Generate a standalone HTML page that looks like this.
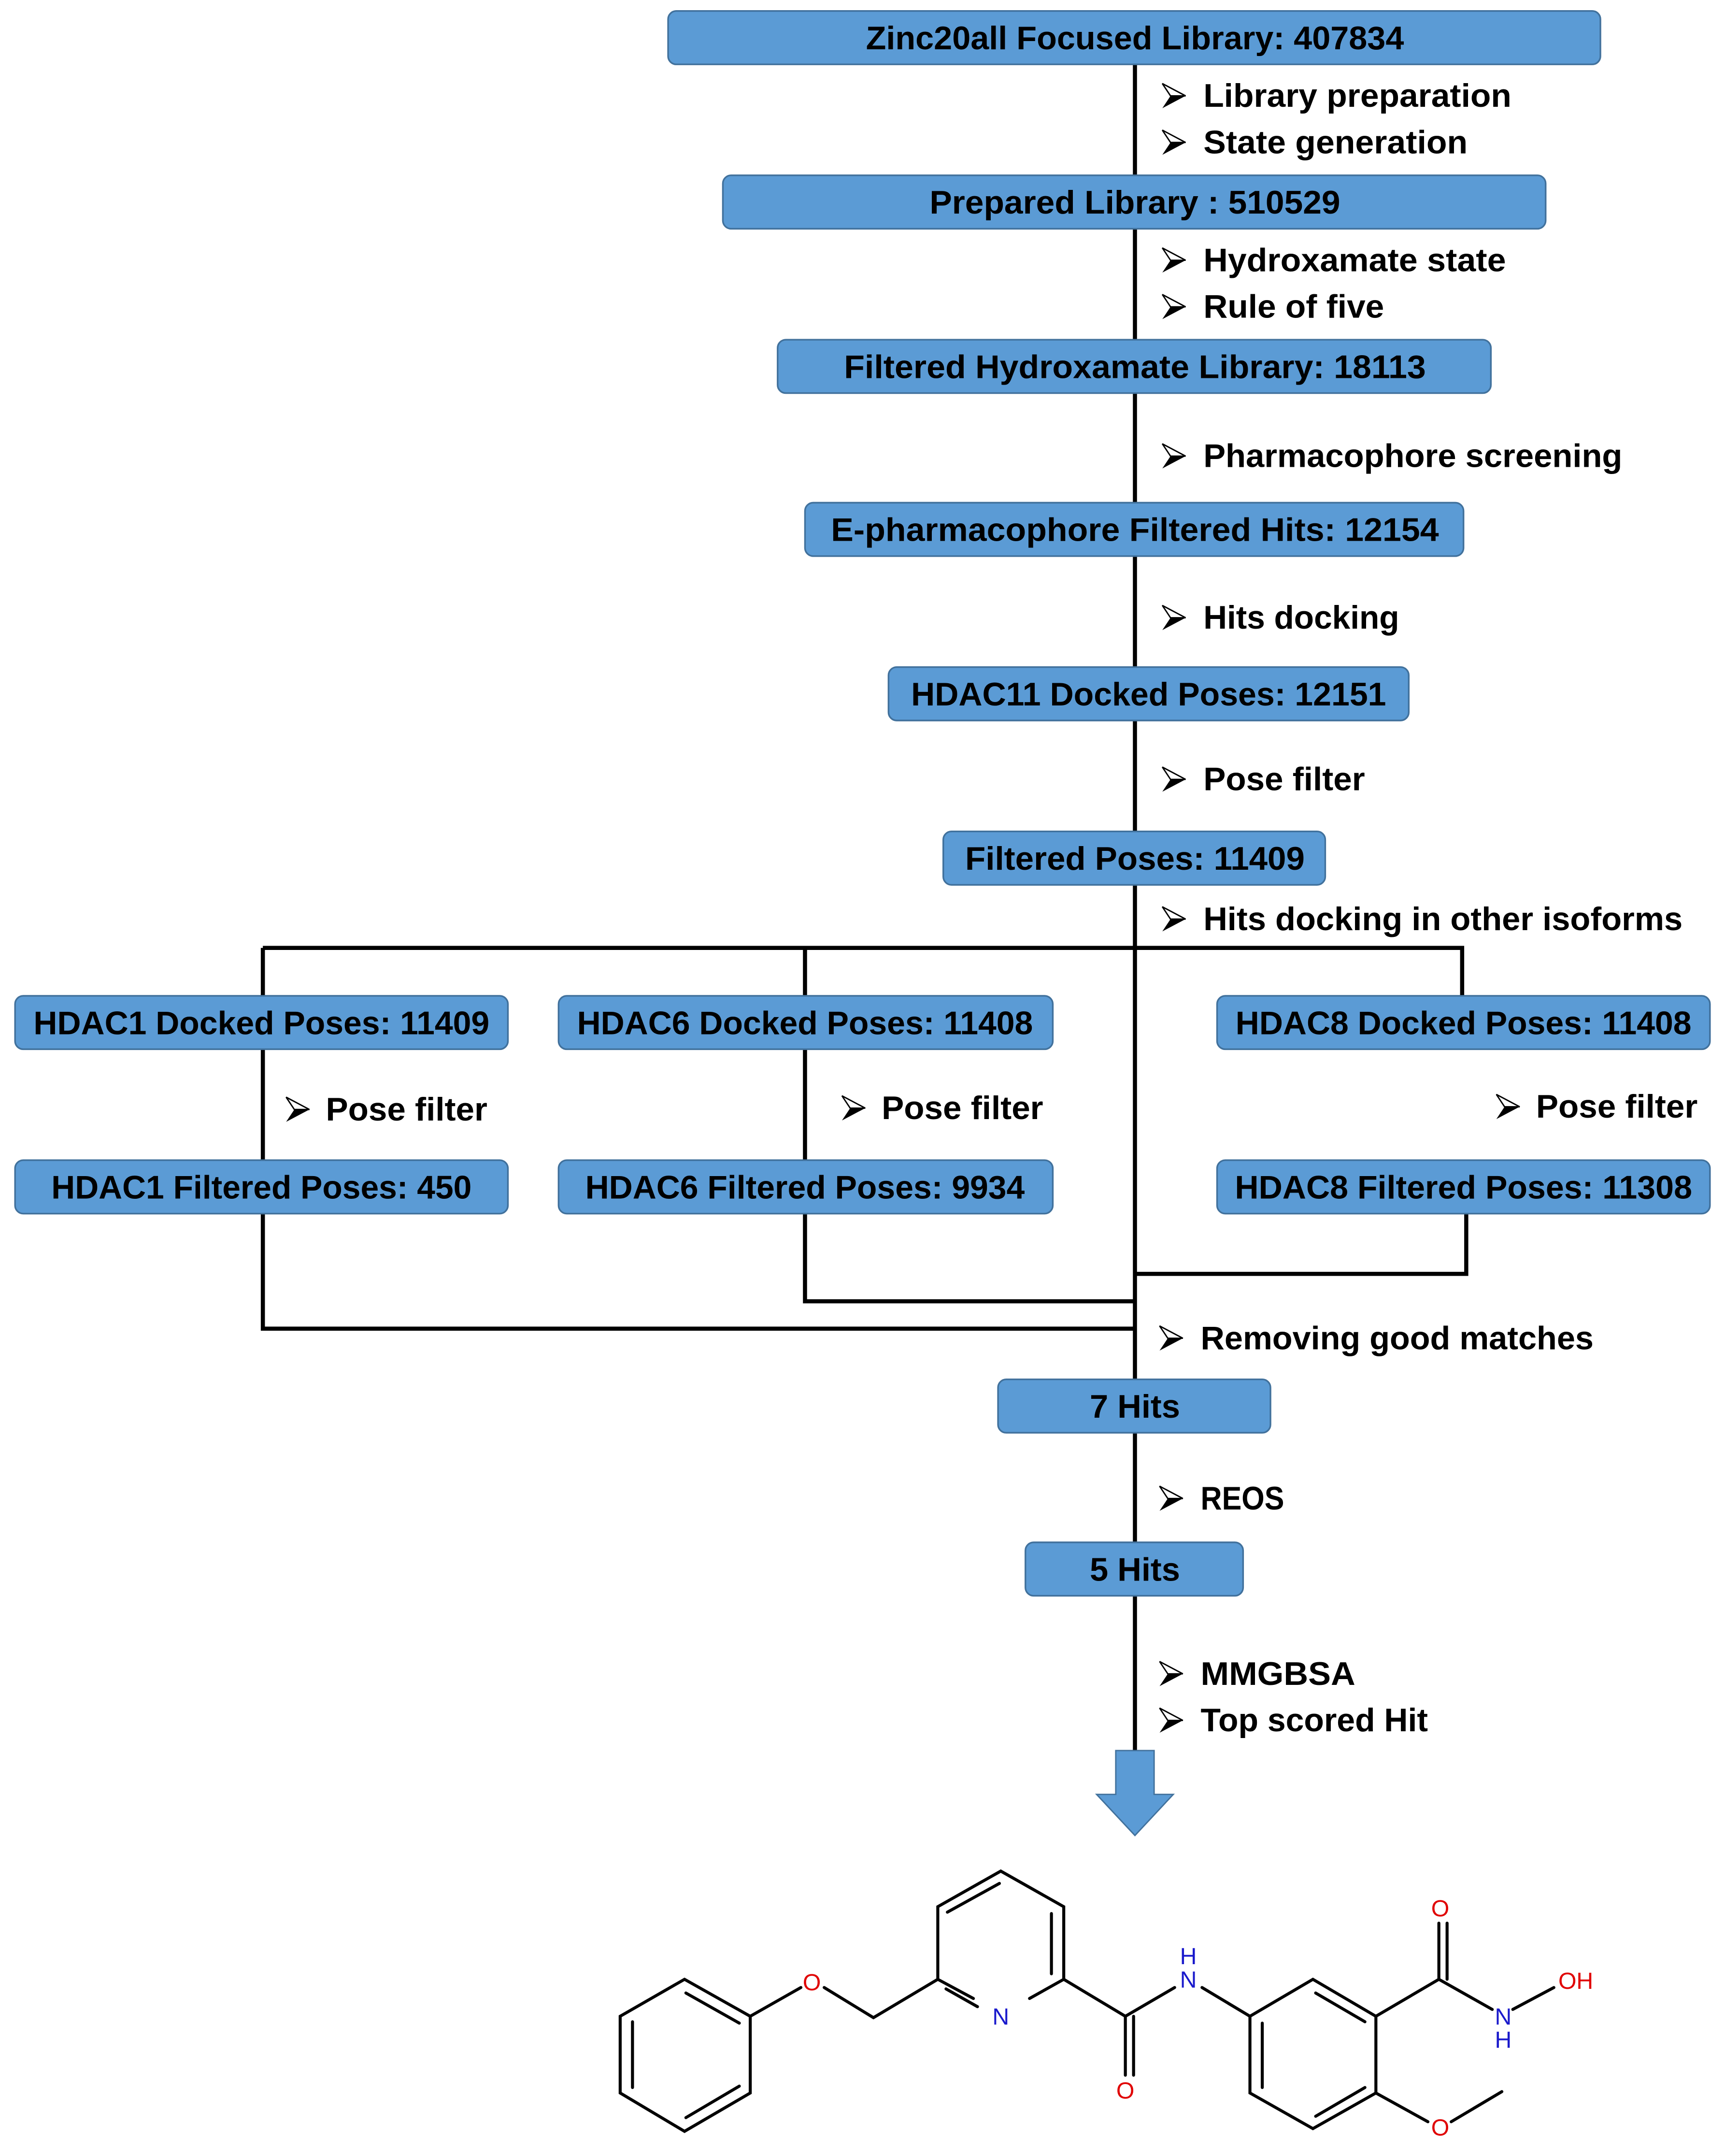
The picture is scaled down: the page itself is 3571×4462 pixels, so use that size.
<!DOCTYPE html>
<html><head><meta charset="utf-8"><style>
html,body{margin:0;padding:0;background:#fff;}
svg{display:block;}
.bx{fill:#5b9bd5;stroke:#41719c;stroke-width:1.2;}
.bt{font-family:"Liberation Sans",sans-serif;font-weight:bold;font-size:24px;fill:#000;}
.lb{font-family:"Liberation Sans",sans-serif;font-weight:bold;font-size:24px;fill:#000;}
.ln{stroke:#000;stroke-width:3;fill:none;}
.b{stroke:#000;stroke-width:2.2;fill:none;stroke-linecap:round;}
.at{font-family:"Liberation Sans",sans-serif;font-size:17px;text-anchor:middle;}
</style></head><body>
<svg width="3571" height="4462" viewBox="0 0 1260 1574" preserveAspectRatio="none" xmlns="http://www.w3.org/2000/svg">
<defs>
<g id="bul"><polygon points="0,-9 17,0 0,9 6,0" fill="#000"/><polygon points="0,-9 17,0 6,0" fill="#fff" stroke="#000" stroke-width="1"/></g>
</defs>
<!-- connectors -->
<path class="ln" d="M829,47 V1280"/>
<path class="ln" d="M192,692 H1068 V727"/>
<path class="ln" d="M192,692 V970 H829"/>
<path class="ln" d="M588,692 V950 H829"/>
<path class="ln" d="M1071,886 V930 H829"/>
<!-- boxes -->
<g>
<rect class="bx" x="488" y="8" width="681" height="39" rx="6"/>
<text class="bt" x="829" y="36" text-anchor="middle" textLength="393" lengthAdjust="spacingAndGlyphs">Zinc20all Focused Library: 407834</text>
<rect class="bx" x="528" y="128" width="601" height="39" rx="6"/>
<text class="bt" x="829" y="156" text-anchor="middle" textLength="300" lengthAdjust="spacingAndGlyphs">Prepared Library : 510529</text>
<rect class="bx" x="568" y="248" width="521" height="39" rx="6"/>
<text class="bt" x="829" y="276" text-anchor="middle" textLength="425" lengthAdjust="spacingAndGlyphs">Filtered Hydroxamate Library: 18113</text>
<rect class="bx" x="588" y="367" width="481" height="39" rx="6"/>
<text class="bt" x="829" y="395" text-anchor="middle" textLength="444" lengthAdjust="spacingAndGlyphs">E-pharmacophore Filtered Hits: 12154</text>
<rect class="bx" x="649" y="487" width="380" height="39" rx="6"/>
<text class="bt" x="839" y="515" text-anchor="middle" textLength="347" lengthAdjust="spacingAndGlyphs">HDAC11 Docked Poses: 12151</text>
<rect class="bx" x="689" y="607" width="279" height="39" rx="6"/>
<text class="bt" x="829" y="635" text-anchor="middle" textLength="248" lengthAdjust="spacingAndGlyphs">Filtered Poses: 11409</text>
<rect class="bx" x="11" y="727" width="360" height="39" rx="6"/>
<text class="bt" x="191" y="755" text-anchor="middle" textLength="333" lengthAdjust="spacingAndGlyphs">HDAC1 Docked Poses: 11409</text>
<rect class="bx" x="408" y="727" width="361" height="39" rx="6"/>
<text class="bt" x="588" y="755" text-anchor="middle" textLength="333" lengthAdjust="spacingAndGlyphs">HDAC6 Docked Poses: 11408</text>
<rect class="bx" x="889" y="727" width="360" height="39" rx="6"/>
<text class="bt" x="1069" y="755" text-anchor="middle" textLength="333" lengthAdjust="spacingAndGlyphs">HDAC8 Docked Poses: 11408</text>
<rect class="bx" x="11" y="847" width="360" height="39" rx="6"/>
<text class="bt" x="191" y="875" text-anchor="middle" textLength="307" lengthAdjust="spacingAndGlyphs">HDAC1 Filtered Poses: 450</text>
<rect class="bx" x="408" y="847" width="361" height="39" rx="6"/>
<text class="bt" x="588" y="875" text-anchor="middle" textLength="321" lengthAdjust="spacingAndGlyphs">HDAC6 Filtered Poses: 9934</text>
<rect class="bx" x="889" y="847" width="360" height="39" rx="6"/>
<text class="bt" x="1069" y="875" text-anchor="middle" textLength="334" lengthAdjust="spacingAndGlyphs">HDAC8 Filtered Poses: 11308</text>
<rect class="bx" x="729" y="1007" width="199" height="39" rx="6"/>
<text class="bt" x="829" y="1035" text-anchor="middle" textLength="66" lengthAdjust="spacingAndGlyphs">7 Hits</text>
<rect class="bx" x="749" y="1126" width="159" height="39" rx="6"/>
<text class="bt" x="829" y="1154" text-anchor="middle" textLength="66" lengthAdjust="spacingAndGlyphs">5 Hits</text>
</g>
<!-- labels -->
<g>
<use href="#bul" x="849" y="70"/><text class="lb" x="879" y="78" textLength="225" lengthAdjust="spacingAndGlyphs">Library preparation</text>
<use href="#bul" x="849" y="104"/><text class="lb" x="879" y="112" textLength="193" lengthAdjust="spacingAndGlyphs">State generation</text>
<use href="#bul" x="849" y="190"/><text class="lb" x="879" y="198" textLength="221" lengthAdjust="spacingAndGlyphs">Hydroxamate state</text>
<use href="#bul" x="849" y="224"/><text class="lb" x="879" y="232" textLength="132" lengthAdjust="spacingAndGlyphs">Rule of five</text>
<use href="#bul" x="849" y="333"/><text class="lb" x="879" y="341" textLength="306" lengthAdjust="spacingAndGlyphs">Pharmacophore screening</text>
<use href="#bul" x="849" y="451"/><text class="lb" x="879" y="459" textLength="143" lengthAdjust="spacingAndGlyphs">Hits docking</text>
<use href="#bul" x="849" y="569"/><text class="lb" x="879" y="577" textLength="118" lengthAdjust="spacingAndGlyphs">Pose filter</text>
<use href="#bul" x="849" y="671"/><text class="lb" x="879" y="679" textLength="350" lengthAdjust="spacingAndGlyphs">Hits docking in other isoforms</text>
<use href="#bul" x="209" y="810"/><text class="lb" x="238" y="818" textLength="118" lengthAdjust="spacingAndGlyphs">Pose filter</text>
<use href="#bul" x="615" y="809"/><text class="lb" x="644" y="817" textLength="118" lengthAdjust="spacingAndGlyphs">Pose filter</text>
<use href="#bul" x="1093" y="808"/><text class="lb" x="1122" y="816" textLength="118" lengthAdjust="spacingAndGlyphs">Pose filter</text>
<use href="#bul" x="847" y="977"/><text class="lb" x="877" y="985" textLength="287" lengthAdjust="spacingAndGlyphs">Removing good matches</text>
<use href="#bul" x="847" y="1094"/><text class="lb" x="877" y="1102" textLength="61" lengthAdjust="spacingAndGlyphs">REOS</text>
<use href="#bul" x="847" y="1222"/><text class="lb" x="877" y="1230" textLength="113" lengthAdjust="spacingAndGlyphs">MMGBSA</text>
<use href="#bul" x="847" y="1256"/><text class="lb" x="877" y="1264" textLength="166" lengthAdjust="spacingAndGlyphs">Top scored Hit</text>
</g>
<!-- big arrow -->
<polygon points="815,1278 843,1278 843,1310 857,1310 829,1340 801,1310 815,1310" fill="#5b9bd5" stroke="#41719c" stroke-width="1"/>
<!-- molecule -->
<g class="b">
<!-- benzene 1 -->
<path d="M500,1445 L548,1472 L548,1528 L500,1556 L453,1528 L453,1472 Z"/>
<path d="M501,1455 L540,1477 M462,1476 L462,1524 M540,1523 L501,1546"/>
<!-- O-CH2 -->
<path d="M548,1472 L585,1451 M602,1451 L638,1473 L685,1445"/>
<!-- pyridine -->
<path d="M685,1445 L685,1392 L731,1366 L777,1392 L777,1445 L752,1459 M711,1459 L685,1445"/>
<path d="M692,1396 L730,1375 M768,1397 L768,1441 M691,1452 L714,1465"/>
<!-- amide -->
<path d="M777,1445 L822,1472 L858,1451 M822,1472 L822,1515 M828,1472 L828,1515"/>
<path d="M878,1451 L913,1472"/>
<!-- benzene 2 -->
<path d="M913,1472 L959,1445 L1005,1472 L1005,1528 L959,1554 L913,1528 Z"/>
<path d="M961,1455 L997,1476 M922,1477 L922,1524 M997,1524 L961,1545"/>
<!-- hydroxamic -->
<path d="M1005,1472 L1051,1445 L1090,1467 M1051,1445 L1051,1404 M1057,1445 L1057,1404 M1105,1467 L1135,1451"/>
<!-- OMe -->
<path d="M1005,1528 L1043,1549 M1060,1549 L1097,1527"/>
</g>
<g class="at">
<text x="593" y="1453" fill="#e00000">O</text>
<text x="731" y="1478" fill="#1a1acc">N</text>
<text x="868" y="1451" fill="#1a1acc">N</text>
<text x="868" y="1434" fill="#1a1acc">H</text>
<text x="822" y="1532" fill="#e00000">O</text>
<text x="1052" y="1399" fill="#e00000">O</text>
<text x="1098" y="1478" fill="#1a1acc">N</text>
<text x="1098" y="1495" fill="#1a1acc">H</text>
<text x="1151" y="1452" fill="#e00000">OH</text>
<text x="1052" y="1559" fill="#e00000">O</text>
</g>
</svg>
</body></html>
